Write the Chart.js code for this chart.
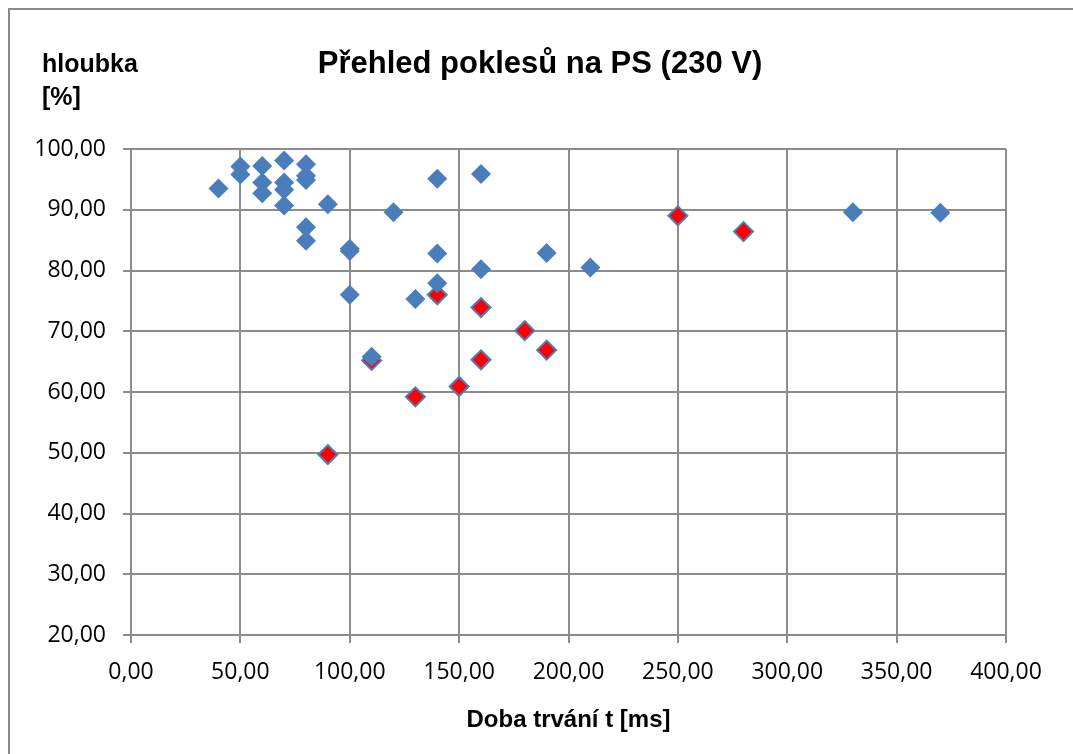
<!DOCTYPE html>
<html>
<head>
<meta charset="utf-8">
<script src="https://cdn.jsdelivr.net/npm/chart.js@4.4.1/dist/chart.umd.min.js"></script>
<style>
  html, body { margin: 0; padding: 0; background: #fff; overflow: hidden; }
  #wrap { position: relative; width: 1073px; height: 754px; }
</style>
</head>
<body>
<div id="wrap"><canvas id="c" width="1073" height="754"></canvas></div>
<script>
// blue series: all dips (duration ms, depth %)
var blueX = [40, 50, 50, 60, 60, 60, 70, 70, 70, 70, 80, 80, 80, 80, 80, 90, 100, 100, 100, 110, 120, 130, 140, 140, 140, 160, 160, 190, 210, 330, 370];
var blueY = [93.5, 97.1, 95.8, 97.2, 94.5, 92.7, 98.1, 94.5, 93.3, 90.7, 97.5, 95.6, 94.9, 87.1, 84.9, 90.9, 83.6, 83.2, 76.0, 65.8, 89.6, 75.3, 95.1, 82.8, 77.9, 95.9, 80.2, 82.9, 80.5, 89.6, 89.5];

// red series: highlighted dips
var redX = [90, 110, 130, 140, 150, 160, 160, 180, 190, 250, 280];
var redY = [49.7, 65.2, 59.2, 76.0, 60.9, 73.9, 65.3, 70.1, 66.9, 89.0, 86.4];

var titleText = 'Přehled poklesů na PS (230 V)';
var yTitleLines = ['hloubka', '[%]'];
var xTitleText = 'Doba trvání t [ms]';

function toPoints(xs, ys) {
    return xs.map(function (x, i) { return { x: x, y: ys[i] }; });
}

function fmt(v) {
    return v.toFixed(2).replace('.', ',');
}

var BLUE = '#4A7EBB';
var GRID = '#8c8c8c';

// frame + texts
var decor = {
    id: 'decor',
    beforeDraw: function (chart) {
        var ctx = chart.ctx;
        ctx.save();
        ctx.fillStyle = '#fff';
        ctx.fillRect(0, 0, chart.width, chart.height);
        ctx.strokeStyle = '#8a8a8a';
        ctx.lineWidth = 2;
        ctx.strokeRect(9, 9, chart.width + 20, chart.height + 20);
        ctx.restore();
    },
    afterDraw: function (chart) {
        var ctx = chart.ctx;
        var area = chart.chartArea;
        ctx.save();
        ctx.fillStyle = '#000';
        ctx.textBaseline = 'alphabetic';

        ctx.font = 'bold 31px "Liberation Sans", Arial, sans-serif';
        ctx.textAlign = 'center';
        ctx.fillText(titleText, 540, 73);

        ctx.font = 'bold 25px "Liberation Sans", Arial, sans-serif';
        ctx.textAlign = 'left';
        ctx.fillText(yTitleLines[0], 42, 72);
        ctx.fillText(yTitleLines[1], 42, 105);

        ctx.font = 'bold 24px "Liberation Sans", Arial, sans-serif';
        ctx.textAlign = 'center';
        ctx.fillText(xTitleText, (area.left + area.right) / 2, 727);
        ctx.restore();
    }
};

new Chart(document.getElementById('c'), {
    type: 'scatter',
    data: {
        datasets: [
            {
                label: 'poklesy',
                data: toPoints(blueX, blueY),
                pointStyle: 'rectRot',
                pointRadius: 10,
                backgroundColor: BLUE,
                borderColor: BLUE,
                borderWidth: 0
            },
            {
                label: 'vybrané',
                data: toPoints(redX, redY),
                pointStyle: 'rectRot',
                pointRadius: 9.5,
                backgroundColor: '#FF0000',
                borderColor: BLUE,
                borderWidth: 2
            }
        ]
    },
    options: {
        responsive: false,
        animation: false,
        layout: { padding: { top: 149, right: 67, left: 0, bottom: 0 } },
        plugins: {
            legend: { display: false },
            tooltip: { enabled: false },
            title: { display: false }
        },
        scales: {
            x: {
                type: 'linear',
                min: 0,
                max: 400,
                afterFit: function (s) { s.height = 119; },
                grid: { color: GRID, lineWidth: 2, tickLength: 8, drawTicks: true },
                border: { color: GRID, width: 2 },
                ticks: {
                    stepSize: 50,
                    padding: 16,
                    color: '#000',
                    maxRotation: 0,
                    font: { family: '"Open Sans", sans-serif', size: 23 },
                    callback: function (v) { return fmt(v); }
                }
            },
            y: {
                type: 'linear',
                min: 20,
                max: 100,
                afterFit: function (s) { s.width = 131; },
                grid: { color: GRID, lineWidth: 2, tickLength: 8, drawTicks: true },
                border: { color: GRID, width: 2 },
                ticks: {
                    stepSize: 10,
                    padding: 17,
                    color: '#000',
                    font: { family: '"Open Sans", sans-serif', size: 23 },
                    callback: function (v) { return fmt(v); }
                }
            }
        }
    },
    plugins: [decor]
});
</script>
</body>
</html>
